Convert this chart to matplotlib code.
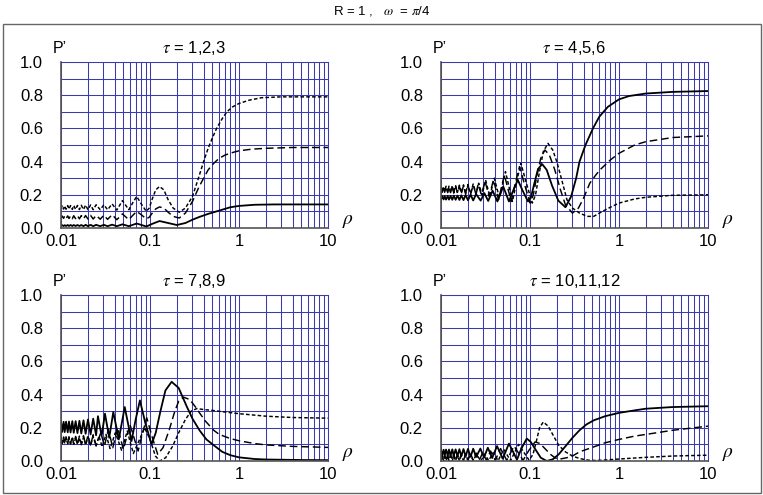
import matplotlib
matplotlib.use('Agg')
import matplotlib.pyplot as plt
from matplotlib.ticker import LogLocator, MultipleLocator, NullFormatter, FixedLocator
from matplotlib.patches import Rectangle

plt.rcParams['font.family'] = ['Liberation Sans', 'DejaVu Sans']
plt.rcParams['mathtext.fontset'] = 'stix'
plt.rcParams['lines.scale_dashes'] = False

### common rho points for the fast wiggles at small rho
rho_dense = [0.0100, 0.0103, 0.0107, 0.0110, 0.0114, 0.0119, 0.0123, 0.0128, 0.0134, 0.0139,
             0.0146, 0.0153, 0.0161, 0.0169, 0.0179, 0.0189, 0.0201, 0.0215, 0.0230, 0.0248]

### tau = 1,2,3
tl_solid_dense = [0.012, 0.017, 0.012, 0.017, 0.012, 0.018, 0.012, 0.018, 0.012, 0.018,
                  0.012, 0.018, 0.012, 0.018, 0.011, 0.019, 0.011, 0.019, 0.011, 0.019]
tl_solid_r = [0.0276, 0.0303, 0.0334, 0.0375, 0.0424, 0.049, 0.0578, 0.0709, 0.091, 0.106, 0.128, 0.16,
              0.20, 0.25, 0.30, 0.36, 0.45, 0.60, 0.80, 1.0, 1.5, 2.5, 10]
tl_solid_p = [0.011, 0.019, 0.011, 0.02, 0.011, 0.022, 0.011, 0.027, 0.009, 0.025, 0.042, 0.03,
              0.018, 0.03, 0.05, 0.067, 0.085, 0.105, 0.125, 0.133, 0.14, 0.142, 0.142]

tl_long_dense = [0.058, 0.072, 0.058, 0.072, 0.057, 0.073, 0.057, 0.073, 0.056, 0.074,
                 0.056, 0.074, 0.055, 0.075, 0.055, 0.075, 0.054, 0.076, 0.054, 0.076]
tl_long_r = [0.0276, 0.0303, 0.0334, 0.0375, 0.0424, 0.049, 0.0578, 0.0637, 0.0709, 0.0797,
             0.091, 0.098, 0.106, 0.116, 0.128, 0.143, 0.16, 0.182, 0.213, 0.25,
             0.30, 0.35, 0.40, 0.45, 0.52, 0.60, 0.70, 0.85, 1.0, 1.4, 2.0, 4.0, 10]
tl_long_p = [0.053, 0.077, 0.052, 0.08, 0.05, 0.085, 0.05, 0.075, 0.1, 0.08,
             0.055, 0.065, 0.09, 0.115, 0.127, 0.12, 0.095, 0.07, 0.06, 0.09,
             0.16, 0.24, 0.30, 0.35, 0.39, 0.42, 0.44, 0.455, 0.465, 0.475, 0.48, 0.485, 0.485]

tl_short_dense = [0.114, 0.134, 0.114, 0.134, 0.113, 0.135, 0.113, 0.135, 0.112, 0.136,
                  0.112, 0.136, 0.111, 0.137, 0.111, 0.138, 0.110, 0.139, 0.110, 0.14]
tl_short_r = [0.0276, 0.0303, 0.0334, 0.0375, 0.0424, 0.049, 0.0578, 0.0637, 0.0709, 0.0797,
              0.091, 0.098, 0.106, 0.116, 0.128, 0.143, 0.16, 0.182, 0.213, 0.25,
              0.30, 0.35, 0.40, 0.45, 0.50, 0.56, 0.65, 0.73, 0.85, 1.0, 1.3, 1.8, 3.0, 10]
tl_short_p = [0.11, 0.14, 0.11, 0.145, 0.108, 0.165, 0.11, 0.15, 0.19, 0.145,
              0.10, 0.12, 0.175, 0.23, 0.25, 0.23, 0.17, 0.12, 0.095, 0.12,
              0.19, 0.30, 0.40, 0.48, 0.54, 0.60, 0.66, 0.70, 0.73, 0.75, 0.77, 0.785, 0.79, 0.79]

### tau = 4,5,6
tr_solid_dense = [0.172, 0.192, 0.172, 0.192, 0.171, 0.193, 0.171, 0.193, 0.170, 0.195,
                  0.170, 0.195, 0.169, 0.197, 0.168, 0.199, 0.167, 0.201, 0.166, 0.204]
tr_solid_r = [0.0279, 0.0307, 0.0339, 0.038, 0.043, 0.05, 0.058, 0.0647, 0.073, 0.0826,
              0.095, 0.103, 0.112, 0.123, 0.137, 0.154, 0.177, 0.208, 0.25, 0.29,
              0.33, 0.36, 0.42, 0.51, 0.60, 0.75, 1.0, 1.3, 2.0, 4.0, 10]
tr_solid_p = [0.165, 0.21, 0.163, 0.225, 0.16, 0.25, 0.16, 0.225, 0.29, 0.225,
              0.16, 0.19, 0.27, 0.355, 0.385, 0.35, 0.255, 0.165, 0.125, 0.19,
              0.30, 0.40, 0.50, 0.60, 0.67, 0.73, 0.775, 0.795, 0.81, 0.82, 0.825]

tr_long_dense = [0.245, 0.215, 0.245, 0.215, 0.247, 0.213, 0.247, 0.213, 0.25, 0.21,
                 0.25, 0.21, 0.252, 0.207, 0.255, 0.205, 0.257, 0.202, 0.26, 0.2]
tr_long_r = [0.0261, 0.0284, 0.0313, 0.0347, 0.0389, 0.0443, 0.0515, 0.0615, 0.068, 0.0763,
             0.087, 0.1005, 0.109, 0.119, 0.132, 0.147, 0.165, 0.19, 0.22, 0.25,
             0.30, 0.35, 0.40, 0.47, 0.55, 0.61, 0.80, 1.0, 1.5, 2.0, 4.0, 10]
tr_long_p = [0.265, 0.2, 0.28, 0.19, 0.29, 0.17, 0.32, 0.16, 0.265, 0.37,
             0.26, 0.15, 0.2, 0.31, 0.42, 0.47, 0.44, 0.35, 0.23, 0.14,
             0.09, 0.12, 0.18, 0.27, 0.32, 0.35, 0.41, 0.45, 0.50, 0.52, 0.545, 0.555]

tr_short_dense = [0.25, 0.22, 0.25, 0.22, 0.252, 0.218, 0.252, 0.218, 0.255, 0.215,
                  0.255, 0.215, 0.258, 0.212, 0.26, 0.21, 0.262, 0.207, 0.265, 0.205]
tr_short_r = [0.0265, 0.0289, 0.0317, 0.0353, 0.0397, 0.0454, 0.053, 0.0635, 0.0704, 0.079,
              0.091, 0.106, 0.1155, 0.127, 0.141, 0.159, 0.18, 0.20, 0.23, 0.26,
              0.30, 0.36, 0.44, 0.52, 0.65, 0.80, 1.0, 1.5, 2.0, 4.0, 10]
tr_short_p = [0.27, 0.2, 0.29, 0.19, 0.30, 0.18, 0.34, 0.16, 0.275, 0.39,
              0.27, 0.15, 0.2, 0.33, 0.46, 0.51, 0.47, 0.40, 0.28, 0.17,
              0.12, 0.09, 0.07, 0.07, 0.10, 0.125, 0.15, 0.175, 0.185, 0.197, 0.20]

### tau = 7,8,9
bl_solid_dense = [0.235, 0.175, 0.236, 0.174, 0.237, 0.173, 0.238, 0.172, 0.24, 0.17,
                  0.24, 0.168, 0.242, 0.166, 0.245, 0.164, 0.25, 0.16, 0.255, 0.155]
bl_solid_r = [0.026, 0.0286, 0.0312, 0.0348, 0.0387, 0.0446, 0.052, 0.062, 0.0687, 0.077,
              0.0885, 0.104, 0.116, 0.131, 0.149, 0.175, 0.21, 0.258, 0.30, 0.36,
              0.43, 0.52, 0.65, 0.80, 1.0, 1.5, 2.0, 5.0, 10]
bl_solid_p = [0.27, 0.15, 0.285, 0.14, 0.295, 0.13, 0.325, 0.12, 0.245, 0.365,
              0.23, 0.10, 0.17, 0.30, 0.425, 0.477, 0.44, 0.33, 0.255, 0.185,
              0.13, 0.095, 0.055, 0.035, 0.022, 0.012, 0.009, 0.006, 0.005]

bl_long_dense = [0.145, 0.105, 0.145, 0.105, 0.146, 0.104, 0.146, 0.104, 0.148, 0.102,
                 0.148, 0.102, 0.15, 0.1, 0.152, 0.098, 0.155, 0.096, 0.158, 0.094]
bl_long_r = [0.028, 0.0308, 0.034, 0.0382, 0.0433, 0.0503, 0.0595, 0.0735, 0.0816, 0.092,
             0.105, 0.122, 0.14, 0.165, 0.19, 0.21, 0.237, 0.28, 0.33, 0.36,
             0.42, 0.52, 0.60, 0.80, 1.0, 1.5, 2.0, 4.0, 10]
bl_long_p = [0.17, 0.09, 0.19, 0.08, 0.2, 0.07, 0.22, 0.06, 0.16, 0.26,
             0.15, 0.04, 0.08, 0.19, 0.3, 0.36, 0.385, 0.37, 0.32, 0.29,
             0.24, 0.185, 0.16, 0.135, 0.122, 0.105, 0.097, 0.088, 0.082]

bl_short_dense = [0.135, 0.105, 0.135, 0.105, 0.136, 0.104, 0.136, 0.104, 0.138, 0.102,
                  0.138, 0.1, 0.14, 0.098, 0.142, 0.096, 0.145, 0.093, 0.148, 0.09]
bl_short_r = [0.0267, 0.029, 0.032, 0.0356, 0.0408, 0.048, 0.0555, 0.065, 0.075, 0.087,
              0.10, 0.115, 0.129, 0.15, 0.18, 0.21, 0.25, 0.29, 0.335, 0.40,
              0.50, 0.70, 1.0, 2.0, 4.0, 10]
bl_short_p = [0.15, 0.085, 0.16, 0.075, 0.17, 0.064, 0.18, 0.045, 0.12, 0.2,
              0.13, 0.03, 0.0, 0.02, 0.09, 0.17, 0.25, 0.3, 0.316, 0.31,
              0.305, 0.295, 0.285, 0.27, 0.262, 0.258]

### tau = 10,11,12
br_solid_dense = [0.068, 0.034, 0.068, 0.034, 0.069, 0.033, 0.069, 0.032, 0.07, 0.031,
                  0.07, 0.03, 0.071, 0.029, 0.072, 0.028, 0.073, 0.026, 0.074, 0.024]
br_solid_r = [0.0277, 0.0304, 0.0336, 0.0376, 0.0426, 0.0493, 0.058, 0.0714, 0.08, 0.092,
              0.102, 0.115, 0.132, 0.154, 0.18, 0.21, 0.247, 0.30, 0.36, 0.43,
              0.52, 0.70, 1.0, 1.5, 2.0, 4.0, 10]
br_solid_p = [0.075, 0.022, 0.08, 0.018, 0.09, 0.014, 0.105, 0.008, 0.075, 0.135,
              0.115, 0.07, 0.02, 0.0, 0.01, 0.04, 0.085, 0.14, 0.185, 0.22,
              0.245, 0.27, 0.29, 0.305, 0.315, 0.325, 0.33]

br_long_dense = [0.006, 0.036, 0.006, 0.037, 0.006, 0.038, 0.005, 0.039, 0.005, 0.04,
                 0.005, 0.041, 0.005, 0.042, 0.004, 0.044, 0.004, 0.046, 0.004, 0.048]
br_long_r = [0.0269, 0.0294, 0.0324, 0.0361, 0.0407, 0.0467, 0.0548, 0.0662, 0.0837, 0.096,
             0.114, 0.13, 0.15, 0.17, 0.19, 0.21, 0.26, 0.30, 0.36, 0.52,
             0.70, 1.0, 1.5, 2.0, 4.0, 10]
br_long_p = [0.004, 0.05, 0.004, 0.06, 0.004, 0.075, 0.004, 0.09, 0.004, 0.06,
             0.115, 0.105, 0.07, 0.04, 0.02, 0.01, 0.02, 0.03, 0.055, 0.085,
             0.11, 0.13, 0.15, 0.16, 0.185, 0.21]

br_short_dense = [0.002, 0.026, 0.002, 0.027, 0.002, 0.028, 0.002, 0.029, 0.002, 0.03,
                  0.002, 0.031, 0.002, 0.032, 0.002, 0.034, 0.002, 0.036, 0.002, 0.038]
br_short_r = [0.0282, 0.031, 0.0343, 0.0385, 0.0438, 0.0508, 0.0604, 0.0746, 0.0976, 0.108,
              0.118, 0.128, 0.141, 0.16, 0.18, 0.21, 0.25, 0.30, 0.36, 0.45,
              0.55, 0.70, 1.0, 2.0, 4.0, 10]
br_short_p = [0.002, 0.042, 0.002, 0.05, 0.002, 0.07, 0.002, 0.10, 0.005, 0.04,
              0.12, 0.2, 0.235, 0.21, 0.16, 0.095, 0.055, 0.03, 0.015, 0.005,
              0.003, 0.006, 0.012, 0.022, 0.03, 0.035]

titles = [r'$\tau$ = 1,2,3', r'$\tau$ = 4,5,6', r'$\tau$ = 7,8,9', r'$\tau$ = 10,11,12']
yticks = [0.0, 0.2, 0.4, 0.6, 0.8, 1.0]
xticks = [0.01, 0.1, 1, 10]
xlabels = ['0.01', '0.1', '1', '10']

W, H = 763, 495
fig = plt.figure(figsize=(W / 100, H / 100), dpi=100)

# outer frame around everything
fig.patches.append(Rectangle((3 / W, 1 - 493 / H), 758 / W, 469 / H, transform=fig.transFigure,
                             fill=False, edgecolor='#666666', linewidth=1.0))
fig.text(0.5, 1 - 11 / H, r'R = 1 ,   $\omega$  = $\pi$/4', ha='center', va='center', fontsize=9.5)

panels = [
    (61, 228, [(tl_solid_dense, tl_solid_r, tl_solid_p), (tl_long_dense, tl_long_r, tl_long_p),
               (tl_short_dense, tl_short_r, tl_short_p)]),
    (441, 228, [(tr_solid_dense, tr_solid_r, tr_solid_p), (tr_long_dense, tr_long_r, tr_long_p),
                (tr_short_dense, tr_short_r, tr_short_p)]),
    (61, 461, [(bl_solid_dense, bl_solid_r, bl_solid_p), (bl_long_dense, bl_long_r, bl_long_p),
               (bl_short_dense, bl_short_r, bl_short_p)]),
    (441, 461, [(br_solid_dense, br_solid_r, br_solid_p), (br_long_dense, br_long_r, br_long_p),
                (br_short_dense, br_short_r, br_short_p)]),
]
styles = [dict(linestyle='-', linewidth=1.3),
          dict(linestyle=(0, (5.5, 2.8)), linewidth=1.05),
          dict(linestyle=(0, (2.6, 1.6)), linewidth=1.05)]

grid_col = '#3a3ab0'
for (x0, ybot, curves), title in zip(panels, titles):
    ax = fig.add_axes([x0 / W, 1 - ybot / H, 267 / W, 166 / H])
    ax.set_xscale('log')
    ax.set_xlim(0.01, 10)
    ax.set_ylim(0, 1)
    ax.xaxis.set_major_locator(FixedLocator(xticks))
    ax.set_xticklabels(xlabels)
    ax.xaxis.set_minor_locator(LogLocator(base=10, subs=[2, 3, 4, 5, 6, 7, 8, 9]))
    ax.xaxis.set_minor_formatter(NullFormatter())
    ax.set_yticks(yticks)
    ax.set_yticklabels(['%.1f' % v for v in yticks])
    ax.yaxis.set_minor_locator(MultipleLocator(0.1))
    ax.tick_params(which='both', length=0, labelsize=12, labelcolor='black')
    ax.tick_params(axis='x', pad=4.5)
    ax.tick_params(axis='y', pad=13)
    ax.grid(which='both', color=grid_col, linewidth=0.75)
    ax.set_axisbelow(True)
    for side in ['top', 'right']:
        ax.spines[side].set_color(grid_col)
        ax.spines[side].set_linewidth(0.75)
    for side in ['left', 'bottom']:
        ax.spines[side].set_color('#555555')
        ax.spines[side].set_linewidth(1.2)

    for (dense, r_mid, p_all), st in zip(curves, styles):
        ax.plot(rho_dense + r_mid, dense + p_all, color='black', clip_on=True, **st)

    ax.text(0.5, 1.0 + 14 / 166, title, transform=ax.transAxes, ha='center', va='center', fontsize=12)
    ax.text(-8 / 267, 1.0 + 14 / 166, "P’", transform=ax.transAxes, ha='left', va='center', fontsize=11.5)
    ax.text(1.0 + 20 / 267, 0.04, r'$\rho$', transform=ax.transAxes, ha='center', va='center', fontsize=14)

fig.savefig('out.png', dpi=100)
